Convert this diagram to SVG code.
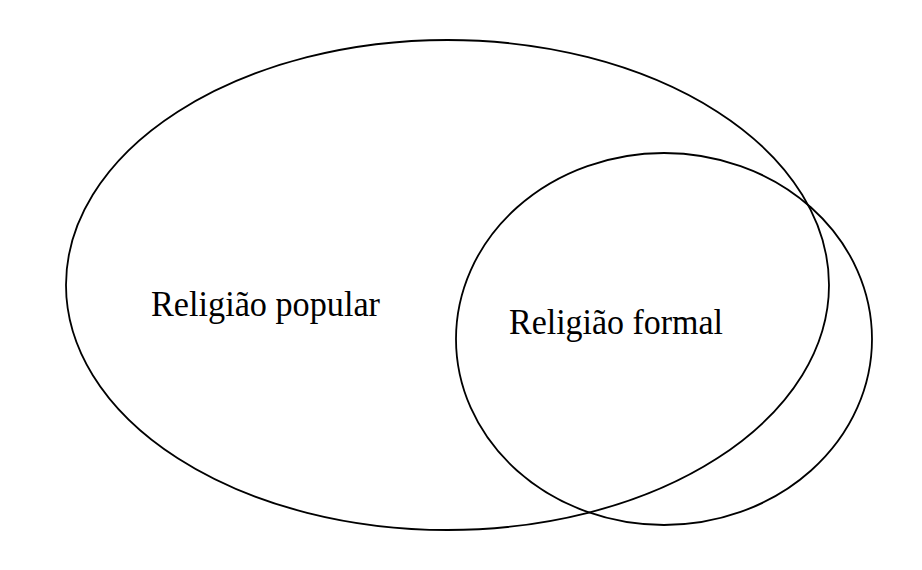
<svg xmlns="http://www.w3.org/2000/svg" width="922" height="570" viewBox="0 0 922 570">
<style>
.set{fill:none;stroke:#000;stroke-width:1.8}
.lbl{font-family:"Liberation Serif","Times New Roman",serif;font-size:36px;fill:#000}
</style>
<rect width="922" height="570" fill="#fff"/>
<g id="popular">
<ellipse class="set" cx="447.5" cy="285" rx="381.5" ry="245"/>
<text class="lbl" x="151" y="316" textLength="229" lengthAdjust="spacingAndGlyphs">Religião popular</text>
</g>
<g id="formal">
<ellipse class="set" cx="664" cy="339" rx="208" ry="186"/>
<text class="lbl" x="509" y="334" textLength="214" lengthAdjust="spacingAndGlyphs">Religião formal</text>
</g>
<g id="connectors"></g>
</svg>
